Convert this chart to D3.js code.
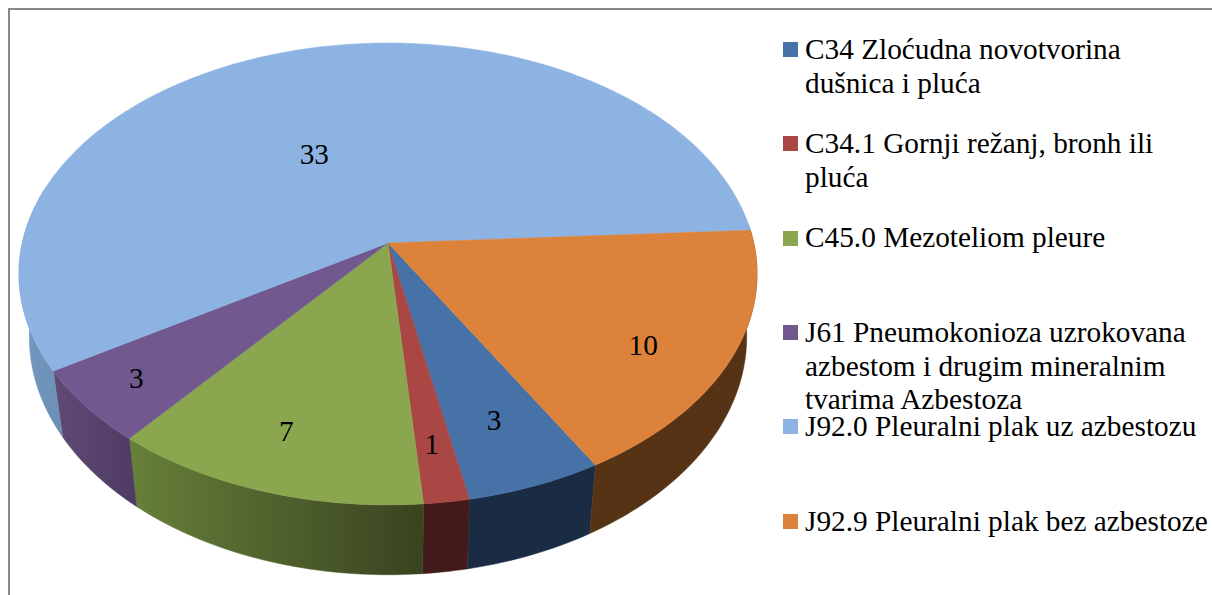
<!DOCTYPE html>
<html>
<head>
<meta charset="utf-8">
<script src="https://cdn.jsdelivr.net/npm/d3@7"></script>
<style>
  body { margin: 0; background: white; }
  text { font-family: "Liberation Serif", serif; fill: #000; }
</style>
</head>
<body>
<div id="container"></div>
<script>
let w = 1212;
let h = 595;

// values
let categories = ["C34", "C34.1", "C45.0", "J61", "J92.0", "J92.9"];
let values = [3, 1, 7, 3, 33, 10];
let legendLines = [
  ["C34 Zloćudna novotvorina", "dušnica i pluća"],
  ["C34.1 Gornji režanj, bronh ili", "pluća"],
  ["C45.0 Mezoteliom pleure"],
  ["J61 Pneumokonioza uzrokovana", "azbestom i drugim mineralnim", "tvarima Azbestoza"],
  ["J92.0 Pleuralni plak uz azbestozu"],
  ["J92.9 Pleuralni plak bez azbestoze"]
];

let topColors = ["#4672a8", "#aa4644", "#8aa64f", "#71588f", "#8db3e2", "#dd823b"];
let wallLeft = ["#1a2b44", "#431a1a", "#67803a", "#5f4a74", "#7398c2", "#573316"];
let wallRight = ["#1a2b44", "#431a1a", "#39431f", "#4e3b64", "#6d8fb5", "#573316"];

// where each number sits, as a share of the radius and a turn off the slice middle
let labelFrac = [0.755, 0.8, 0.786, 0.843, 0.466, 0.783];
let labelTurn = [0.3, 0.3, 1.3, 0.3, -9.7, 4.5];

// legend rows, top of each swatch and baseline of its first text line
let legendSwatchY = [42, 136, 231, 325, 419, 514];
let legendBaseY = [59, 153, 247, 342, 436, 531];
let lineGap = 33.5;

let viz = d3.select("#container")
  .append("svg")
    .attr("width", w)
    .attr("height", h)
    .style("display", "block")
;

// frame only shows on top and left
viz.append("path")
  .attr("d", "M9,595V9H1212")
  .attr("fill", "none")
  .attr("stroke", "#888")
  .attr("stroke-width", 2)
;

// perspective of the disc, apex is not the middle of the ellipse
let tilt = -0.134;
let deg = Math.PI / 180;
let xScale = d3.scaleLinear().domain([-1, 1]).range([388 - 365.7, 388 + 365.7]);
let yScale = d3.scaleLinear().domain([-1, 1]).range([243 - 226.8, 243 + 226.8]);

// d3 pie angle (0 = 12 o'clock, clockwise) and radius share to screen point
function project(a, r) {
  let u = r * Math.sin(a);
  let v = -r * Math.cos(a);
  let d = 1 + tilt * v;
  return [xScale(u / d), yScale(v / d)];
}

// lower rim of the disc, a bit narrower and further down
function lower(p) {
  return [388 + 0.972 * (p[0] - 388), p[1] + 62 + 0.03 * (p[1] - 243)];
}

let pie = d3.pie().value(function(d) { return d; }).sort(null)
  .startAngle(149.9 * deg)
  .endAngle(509.9 * deg);
let arcs = pie(values);

let line = d3.line();

function rim(a0, a1) {
  let n = Math.max(2, Math.ceil((a1 - a0) / deg));
  return d3.range(n + 1).map(function(i) {
    return a0 + (a1 - a0) * i / n;
  });
}

let defs = viz.append("defs");
arcs.forEach(function(d, i) {
  let g = defs.append("linearGradient").attr("id", "wall" + i);
  g.append("stop").attr("offset", "0%").attr("stop-color", wallLeft[i]);
  g.append("stop").attr("offset", "100%").attr("stop-color", wallRight[i]);
});

// walls first, only the part of the rim that faces us
let visibleFrom = 85 * deg;
let visibleTo = 285 * deg;
let wallGroup = viz.append("g").attr("class", "walls");
arcs.forEach(function(d, i) {
  let ranges = [[d.startAngle, d.endAngle], [d.startAngle + 2 * Math.PI, d.endAngle + 2 * Math.PI], [d.startAngle - 2 * Math.PI, d.endAngle - 2 * Math.PI]];
  ranges.forEach(function(rg) {
    let a0 = Math.max(rg[0], visibleFrom);
    let a1 = Math.min(rg[1], visibleTo);
    if (a1 <= a0) return;
    let upper = rim(a0, a1).map(function(a) { return project(a, 1); });
    let bottom = upper.map(lower).reverse();
    wallGroup.append("path")
      .attr("d", line(upper.concat(bottom)) + "Z")
      .attr("fill", "url(#wall" + i + ")")
      .attr("stroke", "url(#wall" + i + ")")
      .attr("stroke-width", 0.5)
    ;
  });
});

// top faces
let topGroup = viz.append("g").attr("class", "tops");
arcs.forEach(function(d, i) {
  let pts = rim(d.startAngle, d.endAngle).map(function(a) { return project(a, 1); });
  pts.unshift(project(0, 0));
  topGroup.append("path")
    .attr("d", line(pts) + "Z")
    .attr("fill", topColors[i])
    .attr("stroke", topColors[i])
    .attr("stroke-width", 0.5)
  ;
});

// numbers on the slices
viz.append("g").attr("class", "labels")
  .selectAll("text")
  .data(arcs)
  .enter()
  .append("text")
    .text(function(d) { return d.value; })
    .attr("x", function(d, i) {
      return project((d.startAngle + d.endAngle) / 2 + labelTurn[i] * deg, labelFrac[i])[0];
    })
    .attr("y", function(d, i) {
      return project((d.startAngle + d.endAngle) / 2 + labelTurn[i] * deg, labelFrac[i])[1] + 10;
    })
    .attr("text-anchor", "middle")
    .attr("font-size", "29.3px")
;

// legend
let legend = viz.append("g").attr("class", "legend");
categories.forEach(function(c, i) {
  legend.append("rect")
    .attr("x", 783)
    .attr("y", legendSwatchY[i])
    .attr("width", 15)
    .attr("height", 15)
    .attr("fill", topColors[i])
  ;
  legendLines[i].forEach(function(t, j) {
    legend.append("text")
      .text(t)
      .attr("x", 805)
      .attr("y", legendBaseY[i] + j * lineGap)
      .attr("font-size", "29.3px")
    ;
  });
});
</script>
</body>
</html>
